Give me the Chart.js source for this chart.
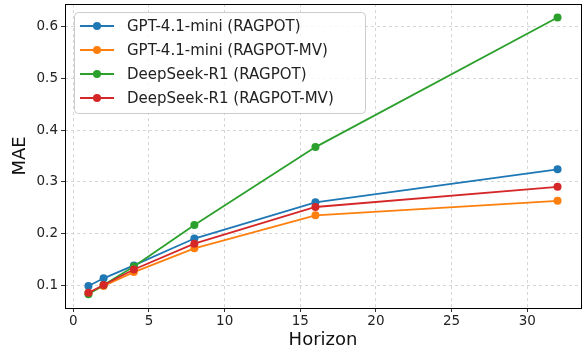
<!DOCTYPE html>
<html>
<head>
<meta charset="utf-8">
<script src="https://cdn.jsdelivr.net/npm/chart.js@4/dist/chart.umd.min.js"></script>
<style>
html,body{margin:0;padding:0;background:#fff;}
#wrap{width:585px;height:356px;}
</style>
</head>
<body>
<div id="wrap"><canvas id="c" width="585" height="356"></canvas></div>
<script>
const horizons = [1, 2, 4, 8, 16, 32];
const gptRagpot = [0.098, 0.113, 0.138, 0.190, 0.260, 0.324];
const gptRagpotMv = [0.084, 0.098, 0.125, 0.171, 0.235, 0.263];
const dsRagpot = [0.082, 0.100, 0.136, 0.216, 0.367, 0.618];
const dsRagpotMv = [0.085, 0.100, 0.130, 0.180, 0.251, 0.290];
const seriesLabels = ['GPT-4.1-mini (RAGPOT)', 'GPT-4.1-mini (RAGPOT-MV)', 'DeepSeek-R1 (RAGPOT)', 'DeepSeek-R1 (RAGPOT-MV)'];
const seriesColors = ['#1f77b4', '#ff7f0e', '#2ca02c', '#d62728'];
const xTicks = [0, 5, 10, 15, 20, 25, 30];
const yTicks = [0.1, 0.2, 0.3, 0.4, 0.5, 0.6];

const allSeries = [gptRagpot, gptRagpotMv, dsRagpot, dsRagpotMv];
const FONT = "'DejaVu Sans', sans-serif";

const datasets = allSeries.map((vals, i) => ({
  label: seriesLabels[i],
  data: horizons.map((h, j) => ({x: h, y: vals[j]})),
  borderColor: seriesColors[i],
  backgroundColor: seriesColors[i],
  borderWidth: 1.8,
  pointRadius: 4,
  pointHoverRadius: 4,
  pointBorderWidth: 0,
  tension: 0,
  order: 4 - i
}));

const framePlugin = {
  id: 'frame',
  afterDatasetsDraw(chart) {
    const {ctx, chartArea: a} = chart;
    ctx.save();
    ctx.strokeStyle = '#000';
    ctx.lineWidth = 1;
    ctx.strokeRect(Math.round(a.left) + 0.5, Math.round(a.top) + 0.5, Math.round(a.right - a.left), Math.round(a.bottom - a.top));
    ctx.restore();
  },
  afterDraw(chart) {
    const ctx = chart.ctx;
    ctx.save();
    const bx = 74, by = 12, bw = 291, bh = 101, r = 4;
    ctx.globalAlpha = 0.8;
    ctx.fillStyle = '#fff';
    ctx.beginPath();
    ctx.roundRect(bx + 0.5, by + 0.5, bw, bh, r);
    ctx.fill();
    ctx.globalAlpha = 1;
    ctx.strokeStyle = '#cccccc';
    ctx.lineWidth = 1;
    ctx.stroke();
    ctx.font = '15px ' + FONT;
    ctx.textBaseline = 'middle';
    ctx.textAlign = 'left';
    chart.data.datasets.forEach((ds, i) => {
      const y = 26 + i * 24;
      ctx.strokeStyle = ds.borderColor;
      ctx.lineWidth = 1.8;
      ctx.beginPath();
      ctx.moveTo(80, y);
      ctx.lineTo(114, y);
      ctx.stroke();
      ctx.fillStyle = ds.borderColor;
      ctx.beginPath();
      ctx.arc(97, y, 4, 0, Math.PI * 2);
      ctx.fill();
      ctx.fillStyle = '#222';
      ctx.fillText(ds.label, 127, y + 1);
    });
    ctx.restore();
  }
};

new Chart(document.getElementById('c'), {
  type: 'line',
  data: {datasets},
  options: {
    responsive: false,
    animation: false,
    devicePixelRatio: 1,
    layout: {padding: {top: 4, right: 3, left: 0, bottom: 0}},
    plugins: {legend: {display: false}, tooltip: {enabled: false}},
    scales: {
      x: {
        type: 'linear',
        min: -0.55,
        max: 33.55,
        afterBuildTicks(s) { s.ticks = xTicks.map(v => ({value: v})); },
        afterFit(s) { s.height = 48; s.paddingLeft = 0; s.paddingRight = 0; },
        grid: {color: '#d6d6d6', tickColor: '#333', tickLength: 4, tickBorderDash: [], drawTicks: true},
        border: {display: false, dash: [3, 3]},
        ticks: {color: '#222', font: {family: FONT, size: 13.5}, padding: 1, maxRotation: 0},
        title: {display: true, text: 'Horizon', color: '#111', font: {family: FONT, size: 18}, padding: {top: 0, bottom: 5}}
      },
      y: {
        type: 'linear',
        min: 0.0555,
        max: 0.644,
        afterBuildTicks(s) { s.ticks = yTicks.map(v => ({value: v})); },
        afterFit(s) { s.width = 65; s.paddingTop = 0; s.paddingBottom = 0; },
        grid: {color: '#d6d6d6', tickColor: '#333', tickLength: 4, tickBorderDash: [], drawTicks: true},
        border: {display: false, dash: [3, 3]},
        ticks: {color: '#222', font: {family: FONT, size: 13.5}, padding: 3, callback: v => v.toFixed(1)},
        title: {display: true, text: 'MAE', color: '#111', font: {family: FONT, size: 18}, padding: {top: 10, bottom: 0}}
      }
    }
  },
  plugins: [framePlugin]
});
</script>
</body>
</html>
